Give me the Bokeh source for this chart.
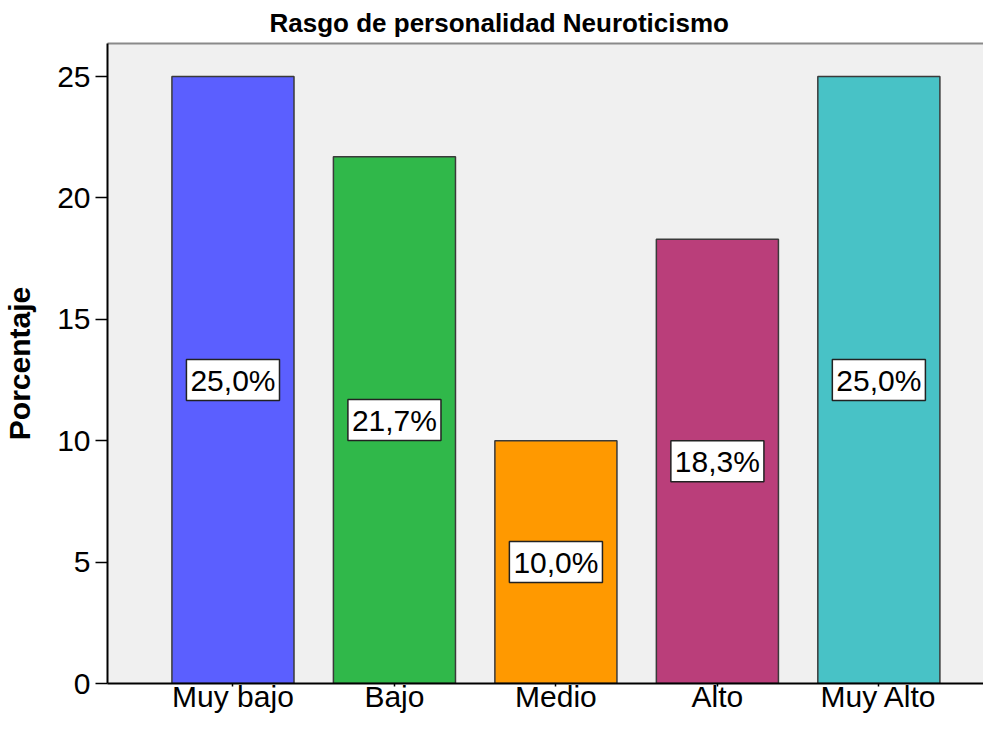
from bokeh.plotting import figure
from bokeh.models import ColumnDataSource, Range1d, FixedTicker, LinearAxis
from bokeh.core.properties import value
from bokeh.embed import file_html
from bokeh.resources import INLINE

categories = ["Muy bajo", "Bajo", "Medio", "Alto", "Muy Alto"]
values = [25.0, 21.7, 10.0, 18.3, 25.0]
labels = ["25,0%", "21,7%", "10,0%", "18,3%", "25,0%"]
colors = ["#5b5fff", "#30b84a", "#ff9900", "#ba3e7a", "#48c2c6"]
y_ticks = [0, 5, 10, 15, 20, 25]

idx = list(range(len(categories)))
src = ColumnDataSource(dict(x=idx, top=values, mid=[v / 2 for v in values],
                            label=labels, color=colors))

FONT = "Liberation Sans"

p = figure(width=983, height=715, output_backend="svg", toolbar_location=None,
           x_range=Range1d(-0.777, 4.648), y_range=Range1d(0, 26.36),
           min_border_left=100, min_border_right=0, min_border_top=0, min_border_bottom=30)

p.background_fill_color = "#f0f0f0"
p.border_fill_color = "white"
p.outline_line_color = None
p.xgrid.visible = False
p.ygrid.visible = False

p.title.text = "Rasgo de personalidad Neuroticismo"
p.title.text_font = FONT
p.title.text_font_size = "26px"
p.title.text_font_style = "bold"
p.title.text_color = "black"
p.title.align = "left"
p.title.offset = 162
p.title.standoff = 11

p.vbar(x="x", top="top", bottom=0, width=0.756, source=src, fill_color="color",
       line_color="#3a3a3a", line_width=1.5)

p.text(x="x", y="mid", text="label", source=src, text_align="center",
       text_baseline="middle", text_font=value(FONT), text_font_size="30px",
       text_color="black", background_fill_color="white",
       border_line_color="#222222", border_line_width=1.5, padding=4)

# x axis
xa = p.xaxis[0]
xa.ticker = FixedTicker(ticks=idx)
xa.major_label_overrides = {i: c for i, c in zip(idx, categories)}
xa.minor_tick_line_color = None
xa.major_tick_in = 0
xa.major_tick_out = 3
xa.major_label_standoff = -7
xa.major_label_text_font = FONT
xa.major_label_text_font_size = "30px"
xa.major_label_text_color = "black"
xa.axis_line_color = "black"
xa.axis_line_width = 2
xa.major_tick_line_color = "black"
xa.major_tick_line_width = 1.5

# y axis
ya = p.yaxis[0]
ya.ticker = FixedTicker(ticks=y_ticks)
ya.minor_tick_line_color = None
ya.major_tick_in = 0
ya.major_tick_out = 12
ya.major_label_standoff = 5
ya.major_label_text_font = FONT
ya.major_label_text_font_size = "30px"
ya.major_label_text_color = "black"
ya.axis_line_color = "black"
ya.axis_line_width = 2
ya.major_tick_line_color = "black"
ya.major_tick_line_width = 1.5
ya.axis_label = "Porcentaje"
ya.axis_label_text_font = FONT
ya.axis_label_text_font_size = "30px"
ya.axis_label_text_font_style = "bold"
ya.axis_label_text_color = "black"
ya.axis_label_standoff = 18

# top frame line
top = LinearAxis(ticker=FixedTicker(ticks=[]), axis_line_color="#8a8a8a",
                 axis_line_width=2, major_tick_line_color=None,
                 minor_tick_line_color=None, major_label_text_font_size="0px")
p.add_layout(top, "above")

open("out.html", "w").write(file_html(p, INLINE))
